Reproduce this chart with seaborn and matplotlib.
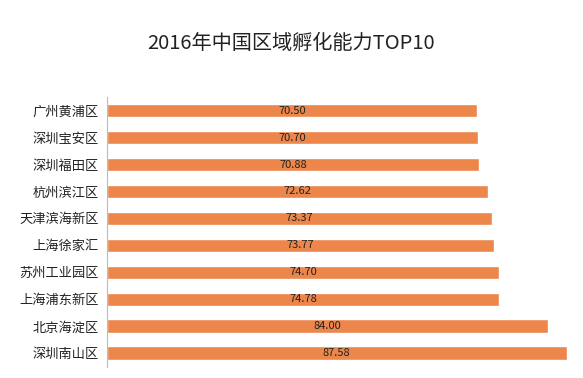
import pandas as pd
import matplotlib.pyplot as plt
import seaborn as sns

# 数据：2016年中国区域孵化能力TOP10
regions = ['广州黄浦区', '深圳宝安区', '深圳福田区', '杭州滨江区', '天津滨海新区',
           '上海徐家汇', '苏州工业园区', '上海浦东新区', '北京海淀区', '深圳南山区']
scores = [70.50, 70.70, 70.88, 72.62, 73.37, 73.77, 74.70, 74.78, 84.00, 87.58]

df = pd.DataFrame({'region': regions, 'score': scores})

sns.set_style('white')
plt.rcParams['font.family'] = ['Noto Sans CJK SC', 'DejaVu Sans']

fig = plt.figure(figsize=(5.83, 3.78), dpi=100)
ax = fig.add_axes([0.1835, 0.030, 0.81, 0.713])

sns.barplot(data=df, x='score', y='region', orient='h', color='#EC864B',
            saturation=1, width=0.5, ax=ax)

# 数值标签放在柱子中间
for i, v in enumerate(scores):
    ax.text(v / 2, i, f'{v:.2f}', ha='center', va='center',
            fontsize=8, color='#222222')

ax.set_xlim(0, 90)
ax.set_ylim(9.5, -0.5)
ax.set_xlabel('')
ax.set_ylabel('')
ax.set_xticks([])
ax.tick_params(axis='y', length=0, pad=6, labelsize=9.5, labelcolor='#222222')
for side in ['top', 'right', 'bottom']:
    ax.spines[side].set_visible(False)
ax.spines['left'].set_color('#BBBBBB')
ax.spines['left'].set_linewidth(0.8)

fig.text(0.5, 0.885, '2016年中国区域孵化能力TOP10', ha='center', va='center',
         fontsize=14.5, color='#222222')

fig.savefig('out.png', dpi=100, facecolor='white')
